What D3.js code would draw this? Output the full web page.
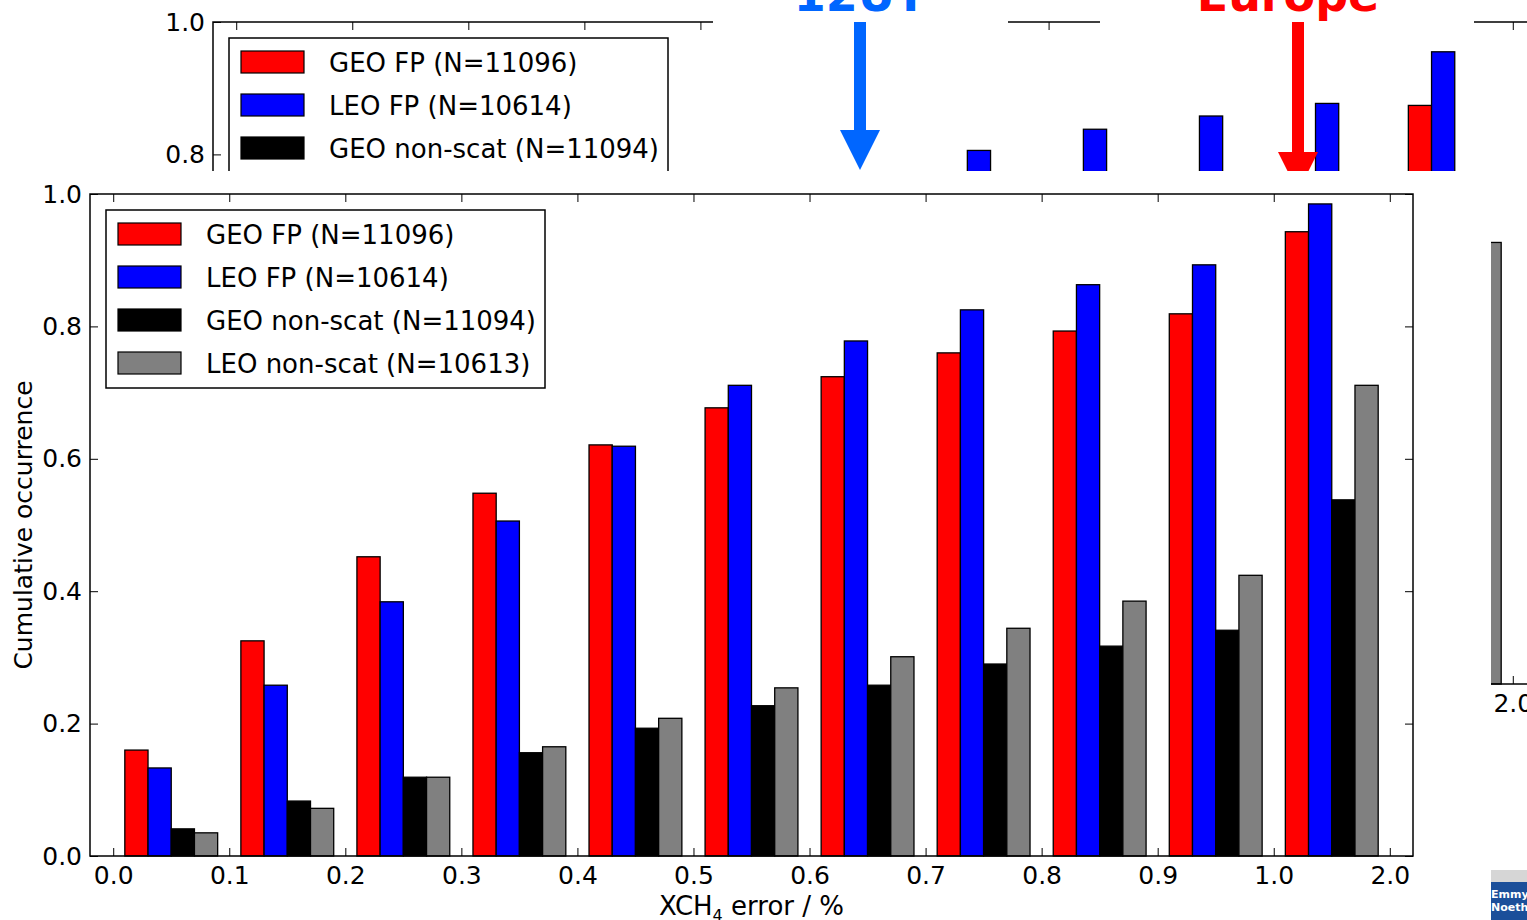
<!DOCTYPE html>
<html>
<head>
<meta charset="utf-8">
<script src="https://cdn.jsdelivr.net/npm/d3@7"></script>
<style>
  body { margin: 0; background: #fff; }
  svg { display: block; }
  text { font-family: "DejaVu Sans", sans-serif; }
</style>
</head>
<body>
<svg id="chart"></svg>
<script>
// tick labels along x, one per bin edge
const xLabels = ['0.0','0.1','0.2','0.3','0.4','0.5','0.6','0.7','0.8','0.9','1.0','2.0']
const yTicks = [0, 0.2, 0.4, 0.6, 0.8, 1.0]

const seriesNames = ['GEO FP (N=11096)', 'LEO FP (N=10614)', 'GEO non-scat (N=11094)', 'LEO non-scat (N=10613)']
const seriesColors = ['#ff0000', '#0000ff', '#000000', '#808080']

// main chart: cumulative occurrence per bin
const geoFP  = [0.160, 0.325, 0.452, 0.548, 0.621, 0.677, 0.724, 0.760, 0.793, 0.819, 0.943]
const leoFP  = [0.133, 0.258, 0.384, 0.506, 0.619, 0.711, 0.778, 0.825, 0.863, 0.893, 0.985]
const geoNon = [0.041, 0.083, 0.119, 0.156, 0.193, 0.227, 0.258, 0.290, 0.317, 0.341, 0.538]
const leoNon = [0.035, 0.072, 0.119, 0.165, 0.208, 0.254, 0.301, 0.344, 0.385, 0.424, 0.711]

// chart behind it on the slide, only a few bars peek out (null = hidden)
const bgGeoFP  = [null, null, null, null, null, null, null, null, null, null, 0.874]
const bgLeoFP  = [null, null, null, null, null, null, 0.806, 0.838, 0.858, 0.877, 0.955]
const bgGeoNon = [null, null, null, null, null, null, null, null, null, null, null]
const bgLeoNon = [null, null, null, null, null, null, null, null, null, null, 0.667]

const W = 1527, H = 920
const svg = d3.select('#chart').attr('width', W).attr('height', H)

const LEFT = 90, RIGHT = 1413, TOP = 194, BOTTOM = 856

const x = d3.scaleLinear().domain([-0.2, 11.2]).range([LEFT, RIGHT])
const y = d3.scaleLinear().domain([0, 1]).range([BOTTOM, TOP])
const barW = x(0.2) - x(0)

function drawChart(g, series, withLabels) {
    // bars
    series.forEach((vals, k) => {
        g.append('g').selectAll('rect')
            .data(vals.map((v, i) => ({v, i})).filter(d => d.v != null))
            .enter().append('rect')
                .attr('x', d => x(d.i + 0.1 + k * 0.2))
                .attr('y', d => y(d.v))
                .attr('width', barW)
                .attr('height', d => y(0) - y(d.v))
                .attr('fill', seriesColors[k])
                .attr('stroke', '#000')
                .attr('stroke-width', 1.3)
    })

    const xa = d3.axisBottom(x).tickValues(d3.range(xLabels.length))
        .tickFormat(i => xLabels[i]).tickSizeInner(-8).tickSizeOuter(0).tickPadding(10)
    const ya = d3.axisLeft(y).tickValues(yTicks)
        .tickFormat(d3.format('.1f')).tickSizeInner(-8).tickSizeOuter(0).tickPadding(8)

    g.append('g').attr('transform', `translate(0,${BOTTOM})`).call(xa)
    g.append('g').attr('transform', `translate(${LEFT},0)`).call(ya)
    g.append('g').attr('transform', `translate(0,${TOP})`)
        .call(d3.axisTop(x).tickValues(d3.range(xLabels.length)).tickFormat('').tickSizeInner(-8).tickSizeOuter(0))
    g.append('g').attr('transform', `translate(${RIGHT},0)`)
        .call(d3.axisRight(y).tickValues(yTicks).tickFormat('').tickSizeInner(-8).tickSizeOuter(0))

    g.selectAll('.domain').remove()
    g.selectAll('.tick line').attr('stroke', '#000').attr('stroke-width', 1)
    g.selectAll('.tick text').attr('font-size', 25).attr('fill', '#000')
        .attr('font-family', '"DejaVu Sans", sans-serif')

    g.append('rect')
        .attr('x', LEFT).attr('y', TOP)
        .attr('width', RIGHT - LEFT).attr('height', BOTTOM - TOP)
        .attr('fill', 'none').attr('stroke', '#000').attr('stroke-width', 1.5)

    // legend
    const lg = g.append('g').attr('transform', 'translate(106,210)')
    lg.append('rect').attr('width', 439).attr('height', 178)
        .attr('fill', '#fff').attr('stroke', '#000').attr('stroke-width', 1.5)
    seriesNames.forEach((name, k) => {
        const cy = 24 + k * 43
        lg.append('rect').attr('x', 12).attr('y', cy - 11).attr('width', 63).attr('height', 22)
            .attr('fill', seriesColors[k]).attr('stroke', '#000').attr('stroke-width', 1.2)
        lg.append('text').attr('x', 100).attr('y', cy + 10)
            .attr('font-size', 26).text(name)
    })

    if (withLabels) {
        g.append('text')
            .attr('transform', `translate(32,${(TOP + BOTTOM) / 2}) rotate(-90)`)
            .attr('text-anchor', 'middle').attr('font-size', 25)
            .text('Cumulative occurrence')
        const xl = g.append('text').attr('x', (LEFT + RIGHT) / 2).attr('y', 915)
            .attr('text-anchor', 'middle').attr('font-size', 26)
        xl.append('tspan').text('XCH')
        xl.append('tspan').attr('font-size', 16).attr('dy', 6).text('4')
        xl.append('tspan').attr('dy', -6).text(' error / %')
    }
}

// background slide chart, shifted
const bg = svg.append('g').attr('transform', 'translate(123,-172)')
drawChart(bg, [bgGeoFP, bgLeoFP, bgGeoNon, bgLeoNon], false)

// white boxes behind the region captions
svg.append('rect').attr('x', 713).attr('y', 0).attr('width', 295).attr('height', 32).attr('fill', '#fff')
svg.append('rect').attr('x', 1100).attr('y', 0).attr('width', 374).attr('height', 32).attr('fill', '#fff')

function arrow(cx, y0, yHead, yTip, color) {
    svg.append('rect').attr('x', cx - 6).attr('y', y0).attr('width', 12).attr('height', yHead - y0 + 1).attr('fill', color)
    svg.append('path').attr('d', `M${cx - 20},${yHead} L${cx + 20},${yHead} L${cx},${yTip} Z`).attr('fill', color)
}
svg.append('text').attr('x', 860).attr('y', 11).attr('text-anchor', 'middle')
    .attr('font-family', '"Liberation Sans", Arial, sans-serif').attr('font-weight', 'bold')
    .attr('font-size', 46).attr('fill', '#0066ff').text('12UT')
arrow(860, 22, 130, 170, '#0066ff')
svg.append('text').attr('x', 1288).attr('y', 11).attr('text-anchor', 'middle')
    .attr('font-family', '"Liberation Sans", Arial, sans-serif').attr('font-weight', 'bold')
    .attr('font-size', 46).attr('fill', '#ff0000').text('Europe')
arrow(1298, 22, 152, 192, '#ff0000')

// logo corner
svg.append('rect').attr('x', 1490).attr('y', 870).attr('width', 37).attr('height', 12).attr('fill', '#d6d6d6')
svg.append('rect').attr('x', 1490).attr('y', 882).attr('width', 37).attr('height', 38).attr('fill', '#1b4f9a')
svg.append('text').attr('x', 1491).attr('y', 898).attr('font-size', 11).attr('font-weight', 'bold').attr('fill', '#fff').text('Emmy')
svg.append('text').attr('x', 1491).attr('y', 911).attr('font-size', 11).attr('font-weight', 'bold').attr('fill', '#fff').text('Noether')

// main chart panel on top
svg.append('rect').attr('x', 0).attr('y', 171).attr('width', 1491).attr('height', H - 171).attr('fill', '#fff')
const main = svg.append('g')
drawChart(main, [geoFP, leoFP, geoNon, leoNon], true)
</script>
</body>
</html>
